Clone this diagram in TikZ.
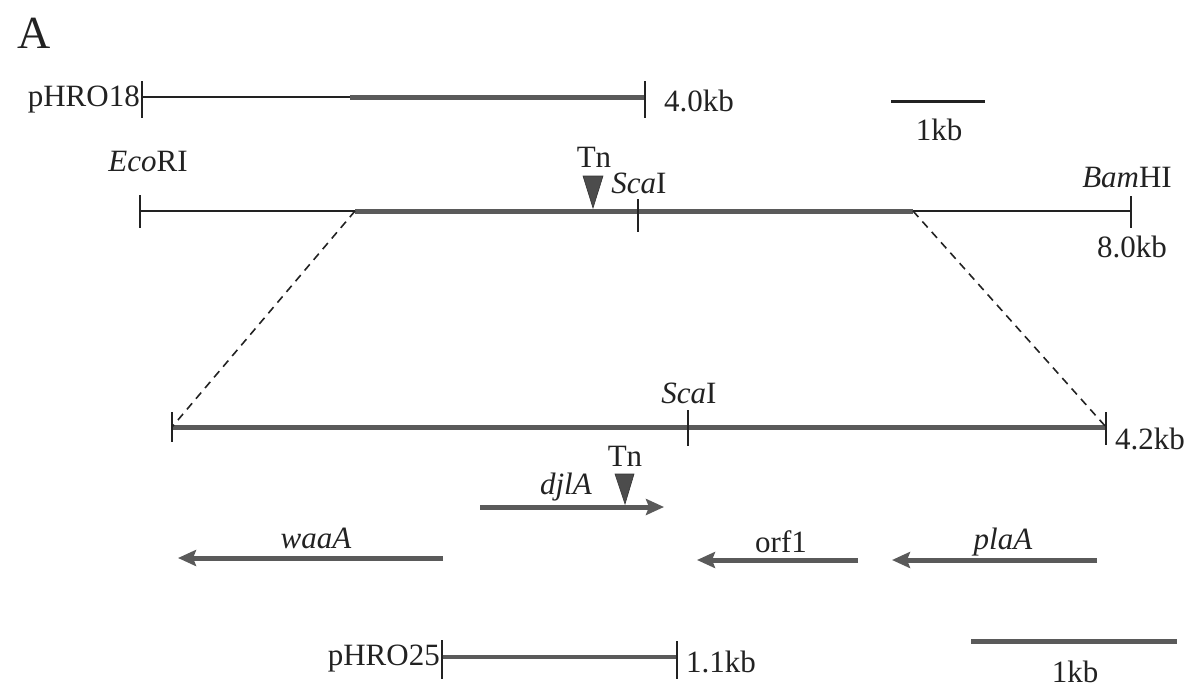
\documentclass[tikz,border=0pt]{standalone}
\usepackage{fontspec}
\setmainfont{Liberation Serif}
\usetikzlibrary{arrows.meta}
\definecolor{ink}{HTML}{222222}
\definecolor{seg}{HTML}{5A5A5A}
\begin{document}
\begin{tikzpicture}[x=1pt,y=-1pt,
  lbl/.style={inner sep=0pt,text=ink,font=\fontsize{31}{36}\selectfont},
  thinline/.style={draw=ink,line width=2pt},
  thickline/.style={draw=seg,line width=5pt},
  tick/.style={draw=ink,line width=2.2pt},
  gene/.style={draw=seg,line width=5pt,-{Stealth[length=18pt,width=16pt,inset=3pt]}},
  tnmark/.style={fill=black!70,draw=black!80,line width=0.6pt},
  dashline/.style={draw=ink,line width=1.6pt,dash pattern=on 8pt off 6pt}]
\useasboundingbox (0,0) rectangle (1198,688);

% panel letter
\node[lbl,font=\fontsize{46}{50}\selectfont,anchor=west] (A) at (17,33) {A};

% pHRO18
\coordinate (p18L) at (142,97);
\coordinate (p18M) at (350,97);
\coordinate (p18R) at (645,97);
\draw[thinline] (p18L) -- (p18M);
\draw[thickline] (p18M) -- (p18R);
\draw[tick] (142,81) -- (142,118);
\draw[tick] (645,81) -- (645,118);
\node[lbl,anchor=east] (n18) at (140,99) {pHRO18};
\node[lbl,anchor=west] (kb40) at (664,101) {4.0kb};

% top scale bar
\coordinate (sb1L) at (891,101);
\coordinate (sb1R) at (985,101);
\draw[draw=ink,line width=3pt] (sb1L) -- (sb1R);
\node[lbl] (kb1a) at (939,130) {1kb};

% main 8.0 kb line
\coordinate (mL) at (140,211);
\coordinate (mA) at (355,211);
\coordinate (mB) at (913,211);
\coordinate (mR) at (1131,211);
\coordinate (mS) at (638,211);
\draw[thinline] (mL) -- (mA);
\draw[thickline] (mA) -- (mB);
\draw[thinline] (mB) -- (mR);
\draw[tick] (140,195) -- (140,228);
\draw[tick] (638,199) -- (638,232);
\draw[tick] (1131,196) -- (1131,228);
\node[lbl] (eco) at (148,161) {\textit{Eco}RI};
\node[lbl] (bam) at (1127,178) {\textit{Bam}HI};
\node[lbl] (kb80) at (1132,247) {8.0kb};
\node[lbl] (tn1) at (594,157) {Tn};
\node[lbl] (sca1) at (639,183) {\textit{Sca}I};
\fill[tnmark] (583,176) -- (603,176) -- (593,208) -- cycle;

% 4.2 kb subclone
\coordinate (sL) at (172,427);
\coordinate (sS) at (688,427);
\coordinate (sR) at (1106,427);
\draw[thickline] (sL) -- (sR);
\draw[tick] (172,412) -- (172,442);
\draw[tick] (688,410) -- (688,446);
\draw[tick] (1106,412) -- (1106,445);
\node[lbl] (sca2) at (689,393) {\textit{Sca}I};
\node[lbl,anchor=west] (kb42) at (1115,439) {4.2kb};

% dashed expansion lines
\draw[dashline] (mA) -- (sL);
\draw[dashline] (mB) -- (sR);

% genes
\coordinate (djS) at (480,507);
\coordinate (djE) at (664,507);
\draw[gene] (djS) -- (djE);
\node[lbl] (djl) at (566,487) {\textit{djlA}};
\node[lbl] (tn2) at (625,456) {Tn};
\fill[tnmark] (615,474) -- (634,474) -- (625,504) -- cycle;

\coordinate (waS) at (443,558);
\coordinate (waE) at (178,558);
\draw[gene] (waS) -- (waE);
\node[lbl] (waa) at (316,538) {\textit{waaA}};

\coordinate (orS) at (858,560);
\coordinate (orE) at (697,560);
\draw[gene] (orS) -- (orE);
\node[lbl] (orf) at (781,542) {orf1};

\coordinate (plS) at (1097,560);
\coordinate (plE) at (892,560);
\draw[gene] (plS) -- (plE);
\node[lbl] (pla) at (1003,542) {\textit{plaA}};

% pHRO25
\coordinate (p25L) at (442,657);
\coordinate (p25R) at (677,657);
\draw[thickline,line width=4pt] (p25L) -- (p25R);
\draw[tick] (442,640) -- (442,679);
\draw[tick] (677,641) -- (677,679);
\node[lbl,anchor=east] (n25) at (440,659) {pHRO25};
\node[lbl,anchor=west] (kb11) at (686,662) {1.1kb};

% bottom scale bar
\coordinate (sb2L) at (971,641);
\coordinate (sb2R) at (1177,641);
\draw[draw=seg,line width=5pt] (sb2L) -- (sb2R);
\node[lbl] (kb1b) at (1075,672) {1kb};
\end{tikzpicture}
\end{document}
